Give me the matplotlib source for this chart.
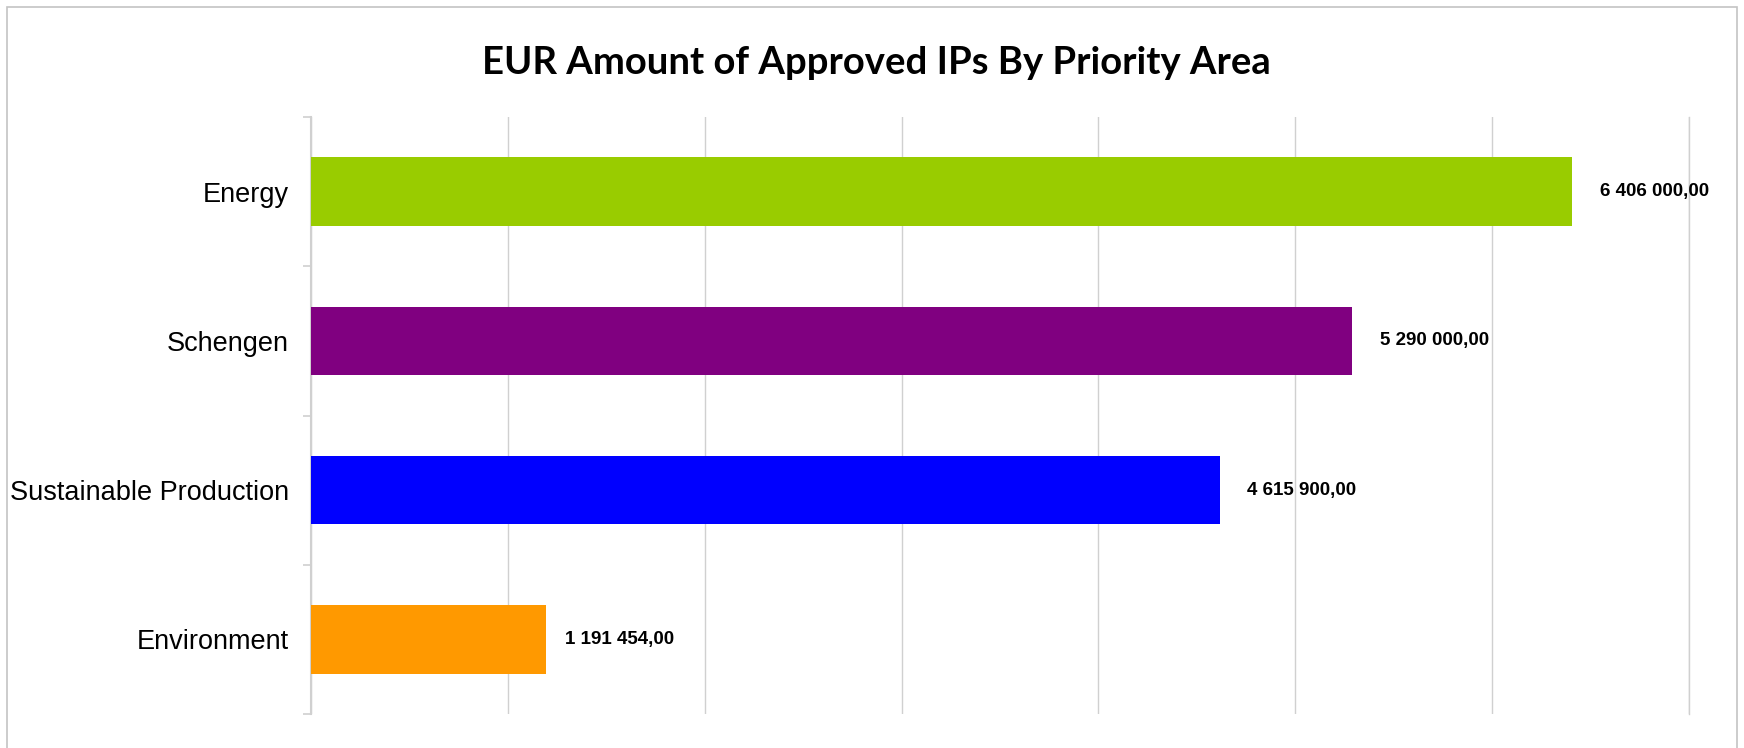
import matplotlib
matplotlib.use("Agg")
import matplotlib.pyplot as plt
import matplotlib.patches as patches

# --- data ---
categories = ["Environment", "Sustainable Production", "Schengen", "Energy"]
amounts = [1191454.00, 4615900.00, 5290000.00, 6406000.00]
bar_colors = ["#FF9900", "#0000FF", "#800080", "#99CC00"]
x_max = 7000000
x_step = 1000000

grid_color = "#d0d0d0"
border_color = "#c4c4c4"


def fmt_eur(v):
    # european style: space as thousands separator, comma as decimal mark
    s = f"{v:,.2f}"
    return s.replace(",", " ").replace(".", ",")


fig = plt.figure(figsize=(17.44, 7.48), dpi=100)
fig.patch.set_facecolor("white")

# outer chart frame
fig.add_artist(patches.Rectangle((7 / 1744, -0.01), 1730 / 1744, 1 - 7 / 748 + 0.01,
                                 transform=fig.transFigure, fill=False,
                                 edgecolor=border_color, lw=1.2))

ax = fig.add_axes([311 / 1744, 1 - 714 / 748, 1378 / 1744, 597 / 748])

y_pos = list(range(len(categories)))
ax.barh(y_pos, amounts, height=0.46, color=bar_colors, zorder=3)

ax.set_xlim(0, x_max)
ax.set_ylim(-0.5, len(categories) - 0.5)

# vertical gridlines every million, no tick labels
ax.set_xticks(range(0, x_max + 1, x_step))
ax.set_xticklabels([])
ax.tick_params(axis="x", length=0)
ax.grid(axis="x", color=grid_color, lw=1.0, zorder=0)

# category labels
ax.set_yticks(y_pos)
ax.set_yticklabels(categories, fontsize=19.5, family=["Liberation Sans"])
ax.tick_params(axis="y", length=0, pad=16)
ax.set_yticks([y - 0.5 for y in range(len(categories) + 1)], minor=True)
ax.tick_params(axis="y", which="minor", length=6, color=grid_color, width=1.2)

for side in ["top", "bottom"]:
    ax.spines[side].set_visible(False)
ax.spines["left"].set_color(grid_color)
ax.spines["left"].set_linewidth(1.5)
ax.spines["right"].set_color(grid_color)
ax.spines["right"].set_linewidth(1.0)

# value labels
for y, v in zip(y_pos, amounts):
    gap = 14 if v < 2000000 else 20
    ax.annotate(fmt_eur(v), (v, y), xytext=(gap, 0), textcoords="offset points",
                ha="left", va="center", fontsize=13.5, fontweight="bold",
                family=["Liberation Sans"], zorder=4)

fig.text(876 / 1744, 1 - 63 / 748, "EUR Amount of Approved IPs By Priority Area",
         ha="center", va="center", fontsize=27.5, fontweight="bold", family=["Lato", "DejaVu Sans"])

fig.savefig("out.png", dpi=100, facecolor="white")
